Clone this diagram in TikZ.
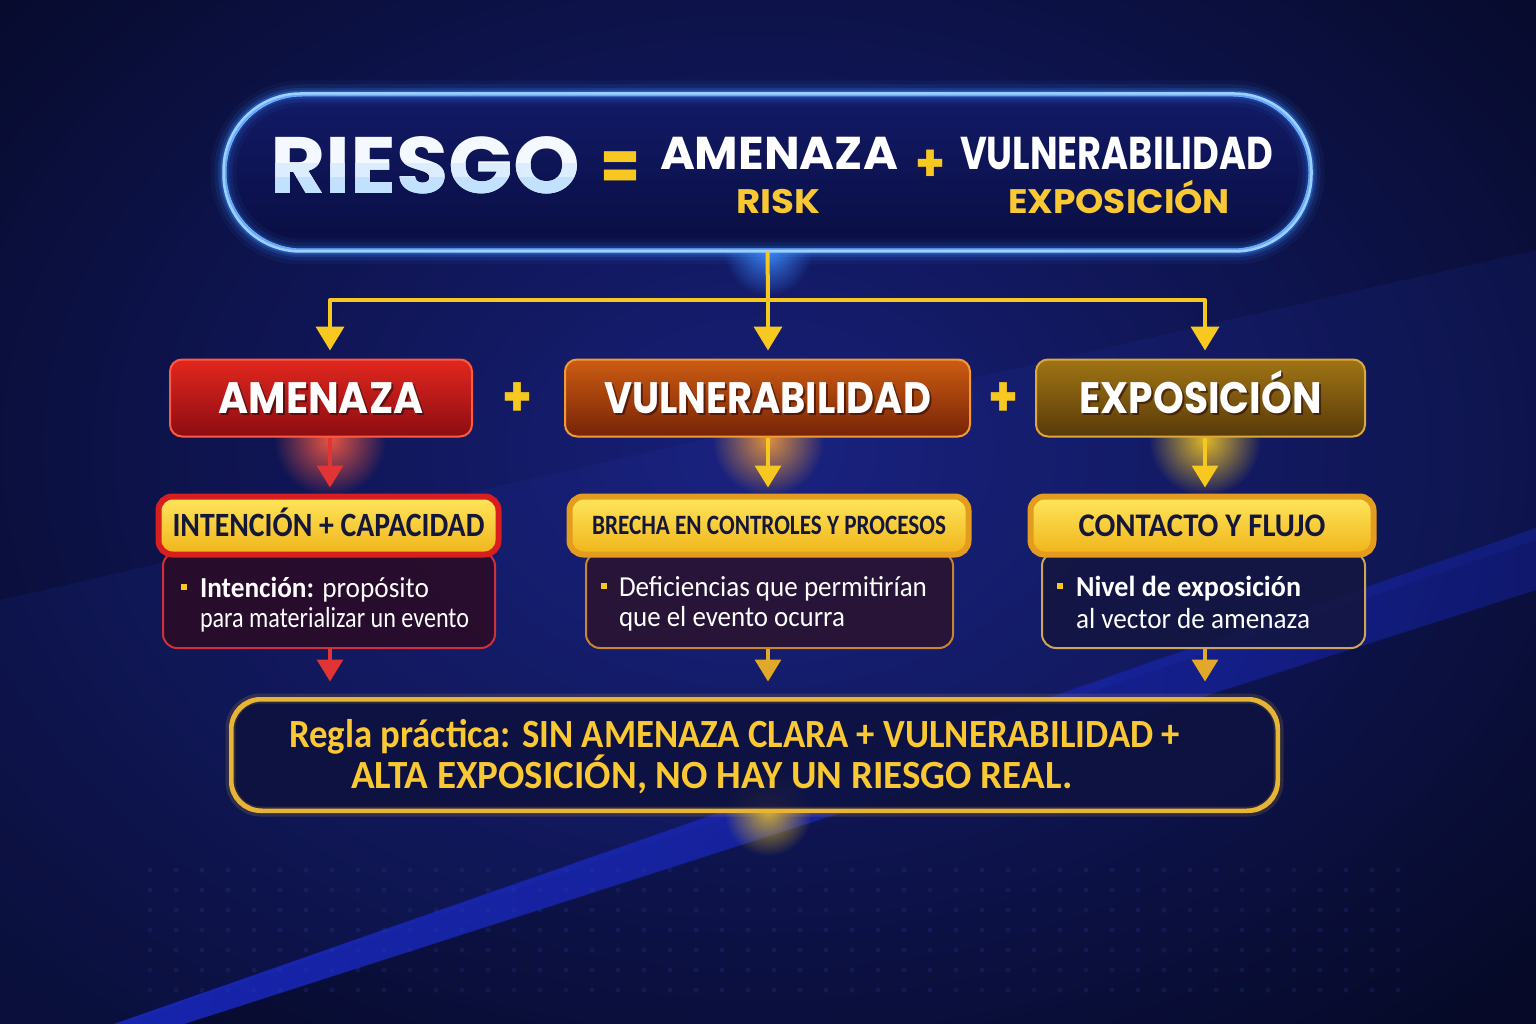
\documentclass[tikz,border=0pt]{standalone}
\usepackage{fontspec}
\setmainfont{Carlito}
\newfontfamily\popf{Poppins}
\newfontfamily\carl{Carlito}
\usetikzlibrary{arrows.meta,fadings}
\tikzfading[name=fadeout, inner color=transparent!0, outer color=transparent!100]
\definecolor{bgdark}{HTML}{060A28}
\definecolor{bgmid}{HTML}{19217E}
\definecolor{bandc}{HTML}{2636B0}
\definecolor{stripe}{HTML}{1E2FE0}
\definecolor{dotc}{HTML}{3446B0}
\definecolor{glowblue}{HTML}{3C8CFF}
\definecolor{edgeblue}{HTML}{9CD0FF}
\definecolor{topfillA}{HTML}{121A66}
\definecolor{topfillB}{HTML}{090E42}
\definecolor{ylw}{HTML}{F7C820}
\definecolor{ytext}{HTML}{F9C833}
\definecolor{redA}{HTML}{E2271E}
\definecolor{redB}{HTML}{8C0C12}
\definecolor{redE}{HTML}{FF5A40}
\definecolor{orA}{HTML}{CC5C12}
\definecolor{orB}{HTML}{772308}
\definecolor{orE}{HTML}{F39A36}
\definecolor{gdA}{HTML}{A07414}
\definecolor{gdB}{HTML}{583A0A}
\definecolor{gdE}{HTML}{DCA83A}
\definecolor{lblA}{HTML}{FFE65C}
\definecolor{lblB}{HTML}{F0B41A}
\definecolor{lbltext}{HTML}{14163A}
\definecolor{lblred}{HTML}{D81E1E}
\definecolor{lblgold}{HTML}{E39C1E}
\definecolor{bodyred}{HTML}{2C0B26}
\definecolor{bodyor}{HTML}{2B1330}
\definecolor{bodygd}{HTML}{141640}
\definecolor{brdred}{HTML}{D0303A}
\definecolor{brdor}{HTML}{C8842E}
\definecolor{brdgd}{HTML}{CCA45A}
\definecolor{arrred}{HTML}{E23434}
\definecolor{arrgd}{HTML}{E2A82A}
\definecolor{rulefill}{HTML}{0E1240}
\definecolor{ruleedge}{HTML}{E8B436}
\definecolor{riesgoc}{HTML}{F4F9FF}
\definecolor{riesgom}{HTML}{DCEDFF}
\definecolor{riesgob}{HTML}{C2E1FF}
\definecolor{shadowc}{HTML}{2A0A08}
\newlength\fitlen
\newcommand\fitx[2]{\settowidth\fitlen{#2}\pgfmathsetmacro\fitfac{#1/\fitlen}\scalebox{\fitfac}[1]{#2}}
\begin{document}
\begin{tikzpicture}[x=1pt,y=-1pt,
  txt/.style={inner sep=0pt, outer sep=0pt},
  hdr/.style={rounded corners=12pt, minimum height=77pt, inner sep=0pt, line width=2pt,
    text height=31pt, text depth=0pt, font=\popf\bfseries\fontsize{44}{44}\selectfont, text=white},
  hdrtxt/.style={txt, font=\popf\bfseries\fontsize{44}{44}\selectfont, text=white, text height=31pt, text depth=0pt},
  riesgotxt/.style={txt, anchor=base west, font=\popf\bfseries\fontsize{80}{80}\selectfont},
  lbl/.style={rounded corners=14pt, minimum height=58pt, line width=6pt, inner sep=0pt,
    top color=lblA, bottom color=lblB, text=lbltext},
  bodybox/.style={rounded corners=14pt, minimum height=96pt, line width=2pt, inner sep=0pt, fill opacity=0.88},
  bodytxt/.style={txt, anchor=base west, text=white, font=\carl\fontsize{29}{29}\selectfont},
  bullet/.style={fill=ylw, minimum size=6pt, inner sep=0pt},
  plussign/.style={txt, text=ylw, font=\popf\bfseries\fontsize{56}{56}\selectfont},
  yline/.style={draw=ylw, line width=4pt},
  yarr/.style={draw=ylw, line width=4pt, -{Triangle[width=28pt,length=24pt]}},
  rarr/.style={draw=arrred, line width=3.5pt, -{Triangle[width=26pt,length=22pt]}},
  garr/.style={draw=arrgd, line width=3.5pt, -{Triangle[width=26pt,length=22pt]}},
  glowspot/.style={path fading=fadeout}
]
\useasboundingbox (0,0) rectangle (1536,1024);
% ---------- background ----------
\fill[bgdark] (0,0) rectangle (1536,1024);
\fill[bgmid, glowspot, opacity=0.95] (760,450) ellipse [x radius=1050pt, y radius=760pt];
\fill[bandc, opacity=0.14] (0,600) -- (1536,250) -- (1536,540) -- (120,1024) -- (0,1024) -- cycle;
\fill[stripe, opacity=0.30] (115,1024) -- (185,1024) -- (1536,590) -- (1536,528) -- cycle;
\fill[stripe, opacity=0.60, path fading=east] (115,1024) -- (185,1024) -- (1536,590) -- (1536,528) -- cycle;
\foreach \i in {0,...,48}{\foreach \j in {0,...,6}{\fill[dotc, opacity=0.18] ({150+\i*26},{870+\j*20}) circle (2.6pt);}}
% ---------- top formula box ----------
\fill[glowblue, glowspot, opacity=0.9] (768,252) circle (44pt);
\node[rounded corners=77pt, minimum width=1085pt, minimum height=155pt, inner sep=0pt,
  top color=topfillA, bottom color=topfillB, draw=edgeblue, line width=3pt] (top) at (767.5,172.5) {};
\foreach \w/\o in {26/0.06, 18/0.10, 11/0.18, 6/0.35}
  \draw[glowblue, line width=\w pt, opacity=\o, rounded corners=77pt] (top.north west) rectangle (top.south east);
\draw[edgeblue, line width=2.5pt, rounded corners=77pt] (top.north west) rectangle (top.south east);
\node[riesgotxt, text=riesgoc] (tR) at (270,194) {\fitx{310pt}{RIESGO}};
\begin{scope}
  \clip (260,164) rectangle (590,178);
  \node[riesgotxt, text=riesgom] (tRm) at (270,194) {\fitx{310pt}{RIESGO}};
\end{scope}
\begin{scope}
  \clip (260,178) rectangle (590,200);
  \node[riesgotxt, text=riesgob] (tRb) at (270,194) {\fitx{310pt}{RIESGO}};
\end{scope}
\node[txt, anchor=base, text=ylw, font=\popf\bfseries\fontsize{72}{72}\selectfont] (tEq) at (620,192) {\fitx{40pt}{=}};
\node[txt, anchor=base west, text=white, font=\popf\bfseries\fontsize{46}{46}\selectfont] (tA) at (660,170) {\fitx{238pt}{AMENAZA}};
\node[txt, anchor=base, text=ylw, font=\popf\bfseries\fontsize{52}{52}\selectfont] (tP) at (930,182) {\fitx{30pt}{+}};
\node[txt, anchor=base west, text=white, font=\popf\bfseries\fontsize{46}{46}\selectfont] (tV) at (960,170) {\fitx{313pt}{VULNERABILIDAD}};
\node[txt, anchor=base west, text=ytext, font=\popf\bfseries\fontsize{34}{34}\selectfont] (tRisk) at (736,214) {\fitx{84pt}{RISK}};
\node[txt, anchor=base west, text=ytext, font=\popf\bfseries\fontsize{34}{34}\selectfont] (tExp) at (1008,214) {\fitx{222pt}{EXPOSICIÓN}};
% ---------- top connectors ----------
\coordinate (split) at (768,300);
\coordinate (la) at (330,300);
\coordinate (ra) at (1205,300);
% glows under headers (behind boxes)
\fill[redE, glowspot, opacity=0.9] (330,440) circle (56pt);
\fill[orE, glowspot, opacity=0.9] (768,440) circle (56pt);
\fill[ylw, glowspot, opacity=0.9] (1205,440) circle (56pt);
% ---------- header boxes ----------
\node[hdr, minimum width=302pt, top color=redA, bottom color=redB, draw=redE] (amen) at (321,398) {};
\node[hdr, minimum width=405pt, top color=orA, bottom color=orB, draw=orE] (vul) at (767.5,398) {};
\node[hdr, minimum width=329pt, top color=gdA, bottom color=gdB, draw=gdE] (expo) at (1200.5,398) {};
\node[hdrtxt, text=shadowc, opacity=0.6] (amens) at ([shift={(2pt,-2pt)}]amen.center) {\fitx{205pt}{AMENAZA}};
\node[hdrtxt] (ament) at (amen.center) {\fitx{205pt}{AMENAZA}};
\node[hdrtxt, text=shadowc, opacity=0.6] (vuls) at ([shift={(2pt,-2pt)}]vul.center) {\fitx{327pt}{VULNERABILIDAD}};
\node[hdrtxt] (vult) at (vul.center) {\fitx{327pt}{VULNERABILIDAD}};
\node[hdrtxt, text=shadowc, opacity=0.6] (expos) at ([shift={(2pt,-2pt)}]expo.center) {\fitx{242pt}{EXPOSICIÓN}};
\node[hdrtxt] (expot) at (expo.center) {\fitx{242pt}{EXPOSICIÓN}};
\node[plussign, anchor=base] (p1) at (517,416) {\fitx{30pt}{+}};
\node[plussign, anchor=base] (p2) at (1003,416) {\fitx{30pt}{+}};
\draw[yline] (top.south) -- (split);
\draw[yline, line cap=round] (la) -- (ra);
\draw[yarr, shorten >=8pt] (la) -- (la |- amen.north);
\draw[yarr, shorten >=8pt] (split) -- (split |- vul.north);
\draw[yarr, shorten >=8pt] (ra) -- (ra |- expo.north);
% ---------- body boxes ----------
\node[bodybox, minimum width=332pt, fill=bodyred, draw=brdred] (bl) at (329,600) {};
\node[bodybox, minimum width=367pt, fill=bodyor, draw=brdor] (bm) at (769.5,600) {};
\node[bodybox, minimum width=323pt, fill=bodygd, draw=brdgd] (br) at (1203.5,600) {};
% ---------- label boxes ----------
\node[lbl, minimum width=340pt, draw=lblred, font=\carl\bfseries\fontsize{34}{34}\selectfont, text height=22pt, text depth=0pt] (ll) at (328.5,525.5) {\fitx{312pt}{INTENCIÓN + CAPACIDAD}};
\node[lbl, minimum width=399pt, draw=lblgold, font=\carl\bfseries\fontsize{28}{28}\selectfont, text height=18pt, text depth=0pt] (lm) at (769,525.5) {\fitx{354pt}{BRECHA EN CONTROLES Y PROCESOS}};
\node[lbl, minimum width=343pt, draw=lblgold, font=\carl\bfseries\fontsize{33}{33}\selectfont, text height=21pt, text depth=0pt] (lr) at (1202,525.5) {\fitx{247pt}{CONTACTO Y FLUJO}};
% header -> label arrows
\draw[rarr, shorten >=6pt] (amen.south -| la) -- (ll.north -| la);
\draw[garr, draw=ylw, shorten >=6pt] (vul.south -| split) -- (lm.north -| split);
\draw[garr, draw=ylw, shorten >=6pt] (expo.south -| ra) -- (lr.north -| ra);
% ---------- body texts ----------
\node[bullet] (b1) at (184,587) {};
\node[bodytxt] (l1a) at (200,597) {\fitx{229pt}{\textbf{Intención:} propósito}};
\node[bodytxt] (l1b) at (200,627) {\fitx{269pt}{para materializar un evento}};
\node[bullet] (b2) at (604,586) {};
\node[bodytxt] (l2a) at (619,596) {\fitx{308pt}{Deficiencias que permitirían}};
\node[bodytxt] (l2b) at (619,626) {\fitx{226pt}{que el evento ocurra}};
\node[bullet] (b3) at (1060,586) {};
\node[bodytxt] (l3a) at (1076,596) {\fitx{225pt}{\textbf{Nivel de exposición}}};
\node[bodytxt] (l3b) at (1076,628) {\fitx{234pt}{al vector de amenaza}};
% ---------- rule box ----------
\fill[ylw, glowspot, opacity=0.8] (768,812) circle (44pt);
\node[rounded corners=30pt, minimum width=1045pt, minimum height=110pt, inner sep=0pt,
  fill=rulefill, fill opacity=0.92, draw=ruleedge, line width=3pt] (rule) at (754.5,755) {};
\draw[ruleedge, line width=10pt, opacity=0.15, rounded corners=30pt] (rule.north west) rectangle (rule.south east);
\draw[ruleedge, line width=3pt, rounded corners=30pt] (rule.north west) rectangle (rule.south east);
\draw[rarr, shorten >=17pt] (bl.south -| la) -- (rule.north -| la);
\draw[garr, shorten >=17pt] (bm.south -| split) -- (rule.north -| split);
\draw[garr, shorten >=17pt] (br.south -| ra) -- (rule.north -| ra);
\node[txt, anchor=base west, text=ytext, font=\carl\bfseries\fontsize{40}{40}\selectfont] (r1) at (289,747) {\fitx{891pt}{Regla práctica: SIN AMENAZA CLARA + VULNERABILIDAD +}};
\node[txt, anchor=base west, text=ytext, font=\carl\bfseries\fontsize{40}{40}\selectfont] (r2) at (351,788) {\fitx{722pt}{ALTA EXPOSICIÓN, NO HAY UN RIESGO REAL.}};
\end{tikzpicture}
\end{document}
